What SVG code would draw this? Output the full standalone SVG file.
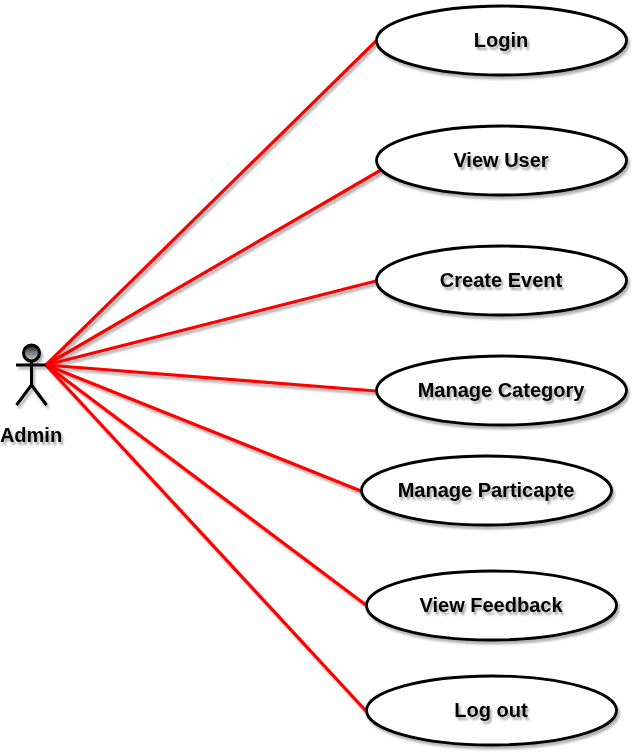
<svg xmlns="http://www.w3.org/2000/svg" width="634" height="754" viewBox="0 0 634 754">
<defs>
<filter id="sh" x="-20%" y="-20%" width="140%" height="150%"><feGaussianBlur in="SourceAlpha" stdDeviation="1.3"/><feOffset dx="2" dy="3"/><feComponentTransfer><feFuncA type="linear" slope="0.3"/></feComponentTransfer><feMerge><feMergeNode/><feMergeNode in="SourceGraphic"/></feMerge></filter>
<filter id="ts" x="-20%" y="-30%" width="140%" height="170%"><feGaussianBlur in="SourceAlpha" stdDeviation="1.2"/><feOffset dx="2" dy="3"/><feComponentTransfer><feFuncA type="linear" slope="0.35"/></feComponentTransfer><feMerge><feMergeNode/><feMergeNode in="SourceGraphic"/></feMerge></filter>
<linearGradient id="head" x1="0" y1="0" x2="0" y2="1"><stop offset="0" stop-color="#111"/><stop offset="0.45" stop-color="#777"/><stop offset="1" stop-color="#ccc"/></linearGradient>
</defs>
<style>
.uc{fill:#fff;stroke:#000;stroke-width:2.8}
.c{stroke:#f00;stroke-width:3.2;fill:none}
text{font-family:"Liberation Sans",Arial,sans-serif;font-size:20px;font-weight:bold;fill:#000;text-anchor:middle}
</style>
<rect width="634" height="754" fill="#fff"/>
<g id="connectors" filter="url(#sh)">
<line class="c" x1="46" y1="365" x2="376" y2="41"/>
<line class="c" x1="46" y1="365" x2="381" y2="170"/>
<line class="c" x1="46" y1="365" x2="376" y2="281"/>
<line class="c" x1="46" y1="365" x2="376" y2="391"/>
<line class="c" x1="46" y1="365" x2="361" y2="491"/>
<line class="c" x1="46" y1="365" x2="366" y2="605"/>
<line class="c" x1="46" y1="365" x2="366" y2="711"/>
</g>
<g id="actor-admin" filter="url(#sh)">
<circle cx="31.500" cy="353" r="8" fill="url(#head)" stroke="#000" stroke-width="3"/>
<path d="M31.500 361V385M16 365H46M31.500 385L16.500 405M31.500 385L46.500 405" fill="none" stroke="#000" stroke-width="3"/>
</g>
<text id="label-admin" x="31" y="442" filter="url(#ts)">Admin</text>
<g id="uc-login"><ellipse class="uc" cx="501.500" cy="40.500" rx="125" ry="34.500" filter="url(#sh)"/><text x="501" y="47" filter="url(#ts)">Login</text></g>
<g id="uc-view-user"><ellipse class="uc" cx="501.500" cy="160.500" rx="125" ry="34.500" filter="url(#sh)"/><text x="501" y="167" filter="url(#ts)">View User</text></g>
<g id="uc-create-event"><ellipse class="uc" cx="501.500" cy="280.500" rx="125" ry="34.500" filter="url(#sh)"/><text x="501" y="287" filter="url(#ts)">Create Event</text></g>
<g id="uc-manage-category"><ellipse class="uc" cx="501.500" cy="390.500" rx="125" ry="34.500" filter="url(#sh)"/><text x="501" y="397" filter="url(#ts)">Manage Category</text></g>
<g id="uc-manage-particapte"><ellipse class="uc" cx="486.500" cy="490.500" rx="125" ry="34.500" filter="url(#sh)"/><text x="486" y="497" filter="url(#ts)">Manage Particapte</text></g>
<g id="uc-view-feedback"><ellipse class="uc" cx="491.500" cy="605.500" rx="125" ry="34.500" filter="url(#sh)"/><text x="491" y="612" filter="url(#ts)">View Feedback</text></g>
<g id="uc-log-out"><ellipse class="uc" cx="491.500" cy="710.500" rx="125" ry="34.500" filter="url(#sh)"/><text x="491" y="717" filter="url(#ts)">Log out</text></g>
</svg>
